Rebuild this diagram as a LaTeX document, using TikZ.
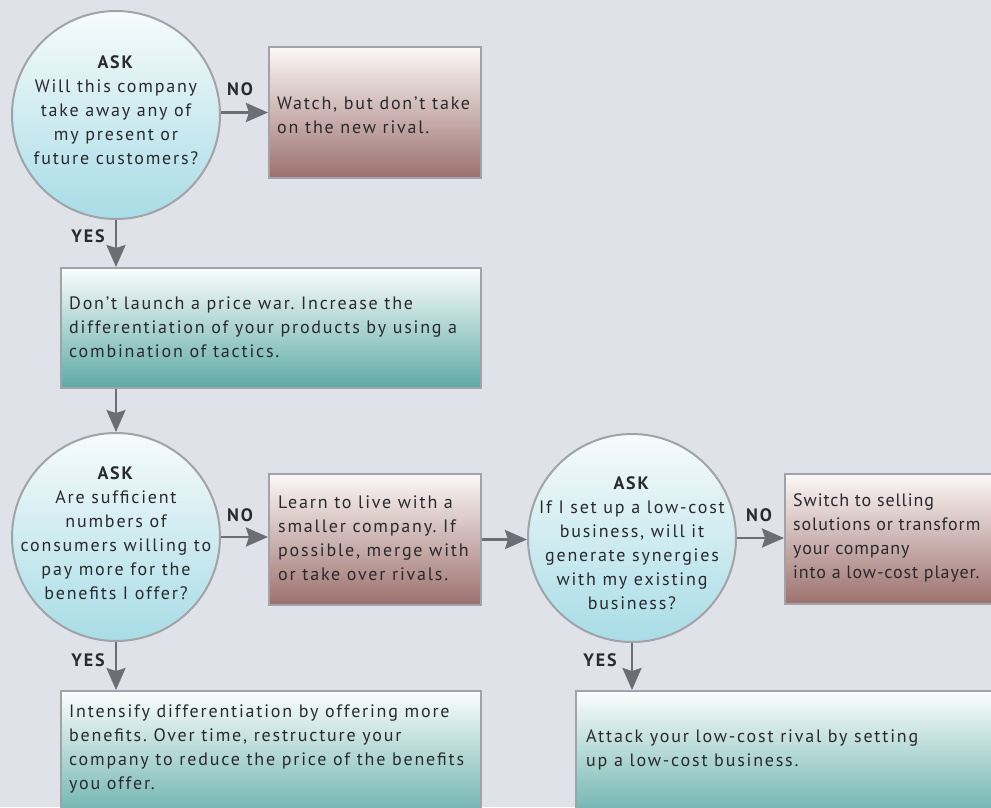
\documentclass[tikz,border=0pt]{standalone}
\usepackage{fontspec}
\setmainfont[LetterSpace=10]{PT Sans}
\usetikzlibrary{arrows.meta}
\definecolor{bg}{HTML}{DFE2E9}
\definecolor{edge}{HTML}{A2A3A7}
\definecolor{arrowc}{HTML}{6D6E73}
\definecolor{txt}{HTML}{2A2A2E}
\definecolor{ctop}{HTML}{F7FBFC}
\definecolor{cbot}{HTML}{A8DCE6}
\definecolor{rtop}{HTML}{FCF8F8}
\definecolor{rbot}{HTML}{9C716D}
\definecolor{ttop}{HTML}{FAFDFD}
\definecolor{tbot}{HTML}{5DAAA5}
\begin{document}
\frenchspacing
\begin{tikzpicture}[x=1pt,y=-1pt,
  askcirc/.style={circle,draw=edge,line width=2pt,minimum size=208pt,inner sep=0pt,top color=ctop,bottom color=cbot},
  redbox/.style={rectangle,draw=edge,line width=2pt,inner sep=0pt,anchor=north west,top color=rtop,bottom color=rbot},
  tealbox/.style={rectangle,draw=edge,line width=2pt,inner sep=0pt,anchor=north west,top color=ttop,bottom color=tbot},
  ctext/.style={align=center,inner sep=0pt,text=txt,font=\fontsize{18}{24}\selectfont},
  btext/.style={align=left,inner sep=0pt,anchor=west,text=txt,font=\fontsize{18}{24}\selectfont},
  lbl/.style={inner sep=0pt,text=txt,font=\fontsize{18}{24}\selectfont\bfseries},
  arr/.style={draw=arrowc,line width=2.7pt,-{Stealth[length=22pt,width=19pt,inset=3pt]},color=arrowc}
]
\useasboundingbox (0,0) rectangle (991,807);
\clip (0,0) rectangle (991,807);
\fill[bg] (0,0) rectangle (991,807);

% circles
\node[askcirc] (c1) at (116,115) {};
\node[askcirc] (c2) at (116,537) {};
\node[askcirc] (c3) at (632,538) {};

% boxes
\node[redbox,minimum width=212pt,minimum height=131pt] (b1) at (268,46) {};
\node[tealbox,minimum width=420pt,minimum height=120pt] (b2) at (60,267) {};
\node[redbox,minimum width=212pt,minimum height=131pt] (b3) at (268,473) {};
\node[redbox,minimum width=260pt,minimum height=130pt] (b4) at (784,473) {};
\node[tealbox,minimum width=420pt,minimum height=140pt] (b5) at (60,690) {};
\node[tealbox,minimum width=460pt,minimum height=140pt] (b6) at (575,690) {};

% circle texts
\node[ctext] (t1) at (116,110.5) {\textbf{ASK}\\Will this company\\take away any of\\my present or\\future customers?};
\node[ctext] (t2) at (116,533) {\textbf{ASK}\\Are sufficient\\numbers of\\consumers willing to\\pay more for the\\benefits I offer?};
\node[ctext] (t3) at (632,543) {\textbf{ASK}\\If I set up a low-cost\\business, will it\\generate synergies\\with my existing\\business?};

% box texts
\node[btext] (u1) at (277,115) {Watch, but don’t take\\on the new rival.};
\node[btext] (u2) at (69,327) {Don’t launch a price war. Increase the\\differentiation of your products by using a\\combination of tactics.};
\node[btext] (u3) at (278,538) {Learn to live with a\\smaller company. If\\possible, merge with\\or take over rivals.};
\node[btext,font=\fontsize{18}{24}\selectfont\addfontfeature{LetterSpace=5}] (u4) at (793,538) {Switch to selling\\solutions or transform\\your company\\into a low-cost player.};
\node[btext] (u5) at (69,749) {Intensify differentiation by offering more\\benefits. Over time, restructure your\\company to reduce the price of the benefits\\you offer.};
\node[btext] (u6) at (586,750) {Attack your low-cost rival by setting\\up a low-cost business.};

% arrows
\draw[arr] (c1.east |- b1.west) -- (b1.west);
\draw[arr] (c1.south) -- (c1.south |- b2.north);
\draw[arr] (c1.south |- b2.south) -- (c2.north);
\draw[arr] (c2.east) -- (c2.east -| b3.west);
\draw[arr] (c2.south) -- (c2.south |- b5.north);
\draw[arr] (b3.east) -- (b3.east -| c3.west);
\draw[arr] (c3.east) -- (c3.east -| b4.west);
\draw[arr] (c3.south) -- (c3.south |- b6.north);

% labels
\node[lbl] (n1) at (240,89) {NO};
\node[lbl] (y1) at (88,236) {YES};
\node[lbl] (n2) at (240,515) {NO};
\node[lbl] (y2) at (88,660) {YES};
\node[lbl] (n3) at (759,515) {NO};
\node[lbl] (y3) at (600,660) {YES};
\end{tikzpicture}
\end{document}
